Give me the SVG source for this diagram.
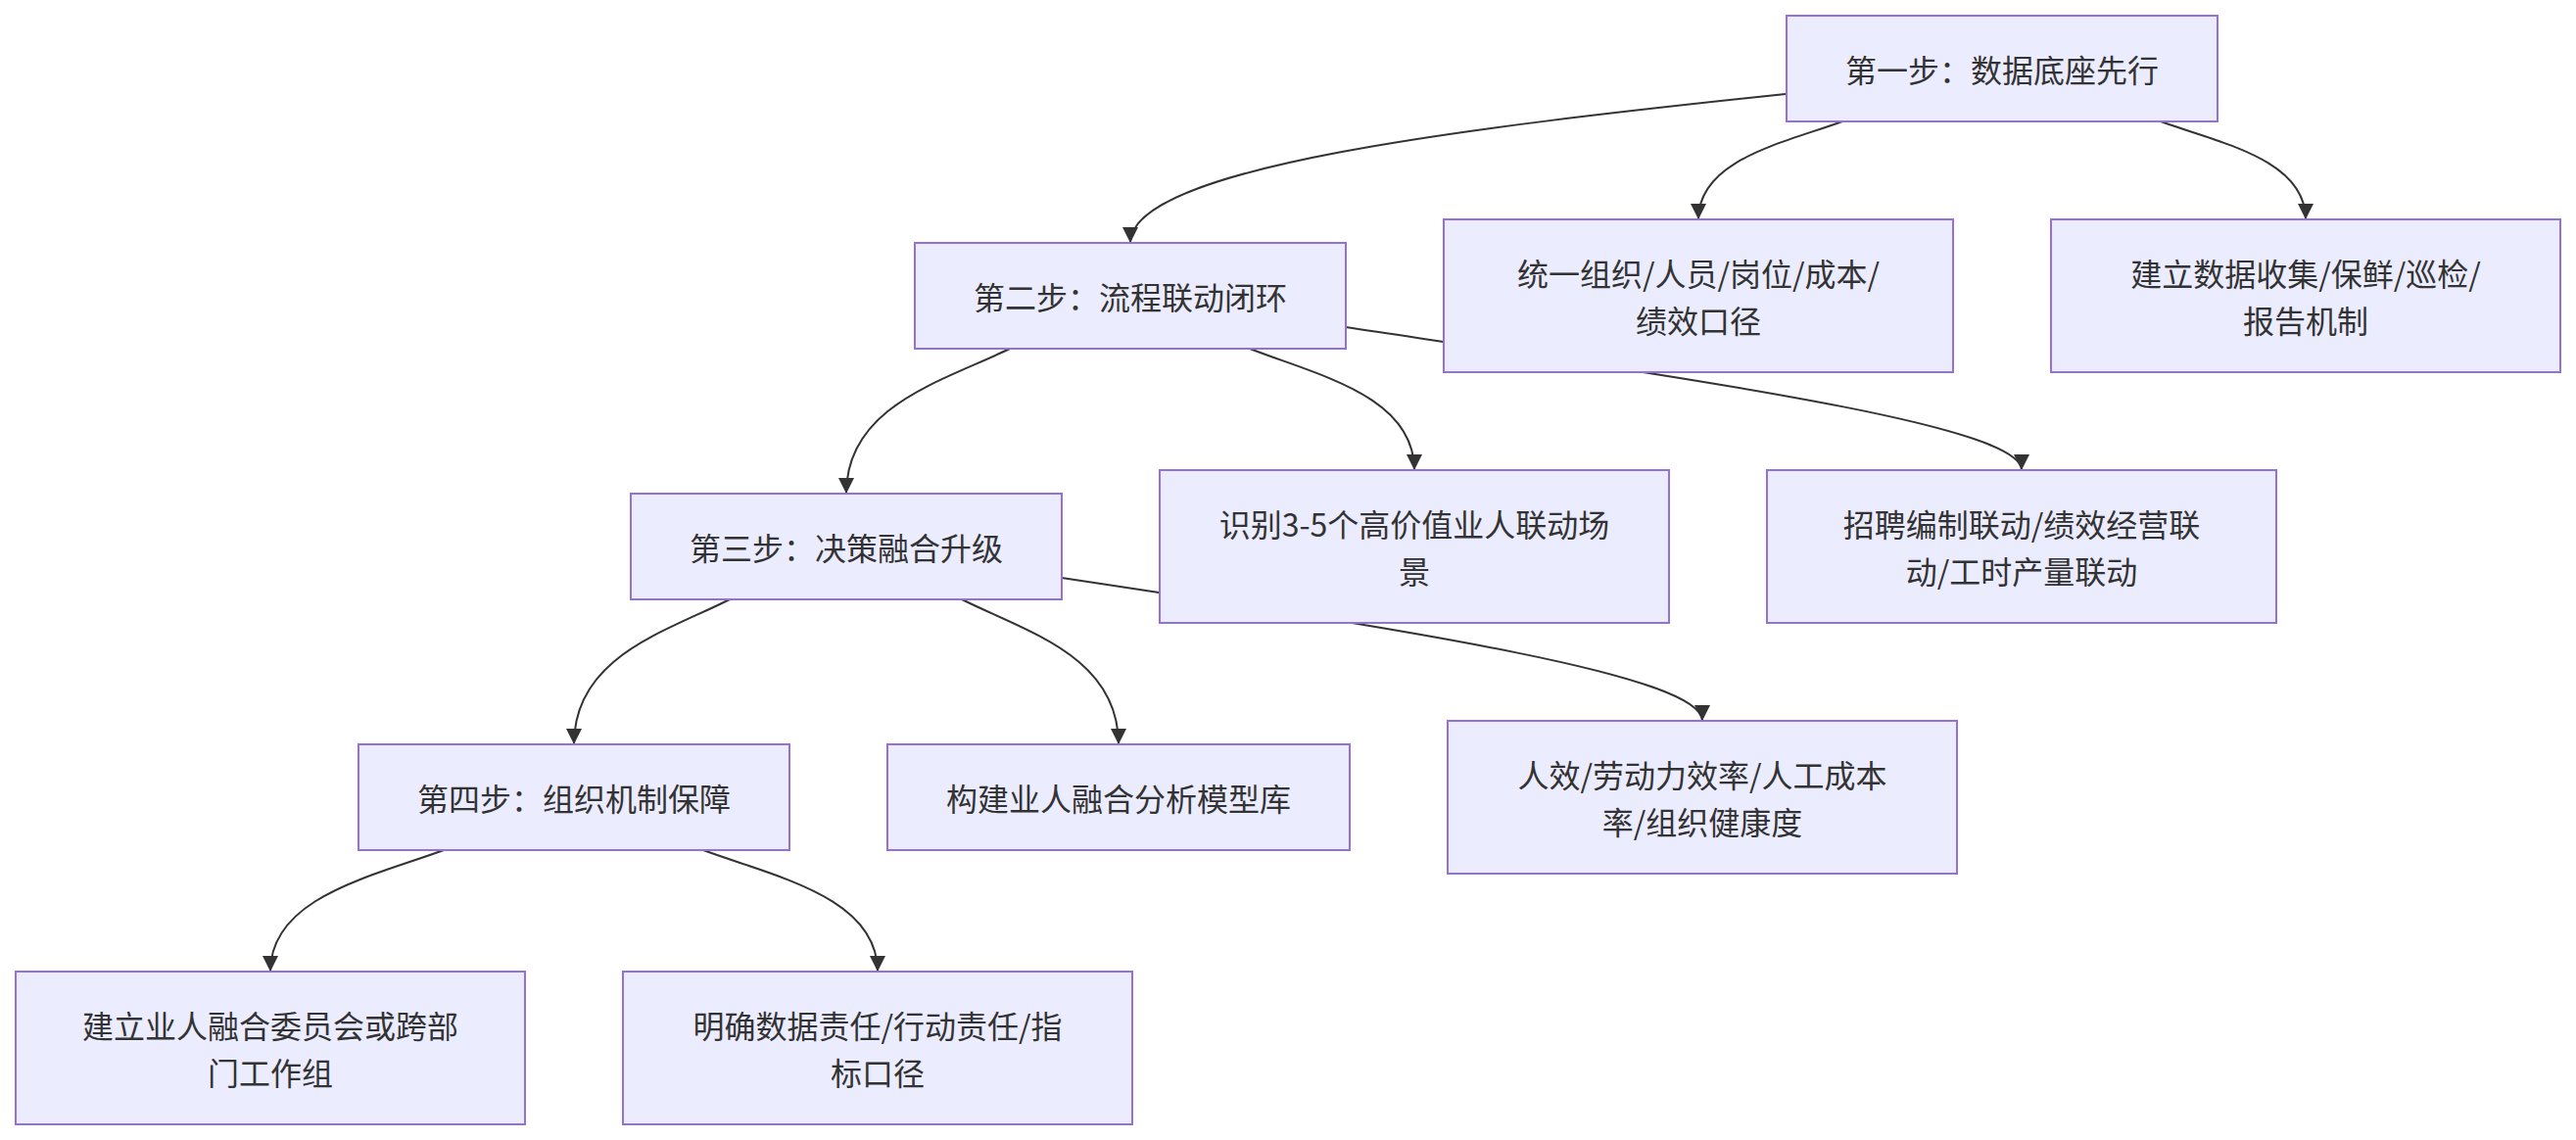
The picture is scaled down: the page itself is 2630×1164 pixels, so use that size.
<svg xmlns="http://www.w3.org/2000/svg" width="2630" height="1164" viewBox="0 0 2630 1164">
<style>
.node rect{fill:#ECECFF;stroke:#9370DB;stroke-width:2}
.node text{font-family:"Noto Sans CJK SC","Noto Sans",sans-serif;font-size:32px;fill:#333;text-anchor:middle;dominant-baseline:central}
.edges path{fill:none;stroke:#333;stroke-width:2;marker-end:url(#arrow)}
</style>
<defs>
<marker id="arrow" viewBox="0 0 10 10" refX="10" refY="5" markerUnits="userSpaceOnUse" markerWidth="16" markerHeight="16" orient="auto">
<path d="M0,0 L10,5 L0,10 z" fill="#333"/>
</marker>
</defs>
<rect width="2630" height="1164" fill="#fff"/>
<g class="edges" id="connectors">
<path d="M1823,96 C1500,130 1154,170 1154,248"/>
<path d="M1881,124 C1821,146 1734,163 1734,224"/>
<path d="M2206,124 C2267,146 2354,163 2354,224"/>
<path d="M1031,356 C963,389 864,414 864,504"/>
<path d="M1276,356 C1345,383 1444,404 1444,480"/>
<path d="M1374,334 C1740,389 2064,434 2064,480"/>
<path d="M745,612 C680,645 586,670 586,760"/>
<path d="M982,612 C1048,645 1142,670 1142,760"/>
<path d="M1084,590 C1450,645 1738,690 1738,736"/>
<path d="M453,868 C380,895 276,916 276,992"/>
<path d="M718,868 C791,895 896,916 896,992"/>
</g>
<g class="node" id="step1"><rect x="1824" y="16" width="440" height="108"/><text x="2044" y="70">第一步：数据底座先行</text></g>
<g class="node" id="unify"><rect x="1474" y="224" width="520" height="156"/><text x="1734" y="278">统一组织/人员/岗位/成本/</text><text x="1734" y="326">绩效口径</text></g>
<g class="node" id="mechanism"><rect x="2094" y="224" width="520" height="156"/><text x="2354" y="278">建立数据收集/保鲜/巡检/</text><text x="2354" y="326">报告机制</text></g>
<g class="node" id="step2"><rect x="934" y="248" width="440" height="108"/><text x="1154" y="302">第二步：流程联动闭环</text></g>
<g class="node" id="scenes"><rect x="1184" y="480" width="520" height="156"/><text x="1444" y="534">识别3-5个高价值业人联动场</text><text x="1444" y="582">景</text></g>
<g class="node" id="linkage"><rect x="1804" y="480" width="520" height="156"/><text x="2064" y="534">招聘编制联动/绩效经营联</text><text x="2064" y="582">动/工时产量联动</text></g>
<g class="node" id="step3"><rect x="644" y="504" width="440" height="108"/><text x="864" y="558">第三步：决策融合升级</text></g>
<g class="node" id="models"><rect x="906" y="760" width="472" height="108"/><text x="1142" y="814">构建业人融合分析模型库</text></g>
<g class="node" id="metrics"><rect x="1478" y="736" width="520" height="156"/><text x="1738" y="790">人效/劳动力效率/人工成本</text><text x="1738" y="838">率/组织健康度</text></g>
<g class="node" id="step4"><rect x="366" y="760" width="440" height="108"/><text x="586" y="814">第四步：组织机制保障</text></g>
<g class="node" id="committee"><rect x="16" y="992" width="520" height="156"/><text x="276" y="1046">建立业人融合委员会或跨部</text><text x="276" y="1094">门工作组</text></g>
<g class="node" id="duties"><rect x="636" y="992" width="520" height="156"/><text x="896" y="1046">明确数据责任/行动责任/指</text><text x="896" y="1094">标口径</text></g>
</svg>
